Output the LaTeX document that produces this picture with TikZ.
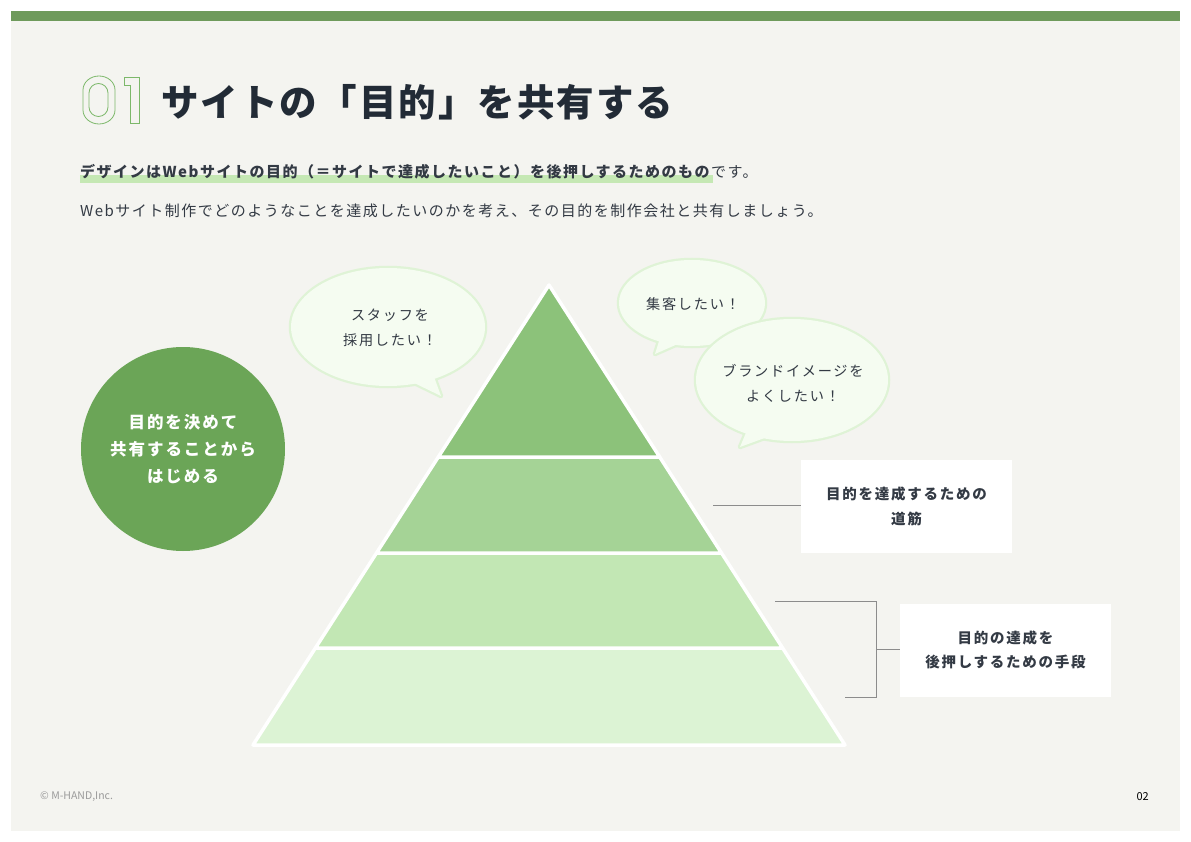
\documentclass[tikz,border=0pt]{standalone}
\usepackage{fontspec}
\setmainfont{Noto Sans CJK JP}
\newfontfamily\jptitle[LetterSpace=5.5]{Noto Sans CJK JP}
\newfontfamily\jpsub[LetterSpace=10]{Noto Sans CJK JP}
\newfontfamily\jpbody[LetterSpace=12]{Noto Sans CJK JP}
\newfontfamily\jpfoot{Noto Sans CJK JP}
\definecolor{bgpanel}{HTML}{F4F4F0}
\definecolor{strip}{HTML}{6E9A5B}
\definecolor{titlec}{HTML}{222B36}
\definecolor{textc}{HTML}{333A44}
\definecolor{hilite}{HTML}{C5E8B4}
\definecolor{circc}{HTML}{6BA557}
\definecolor{pyrA}{HTML}{8CC27A}
\definecolor{pyrB}{HTML}{A5D396}
\definecolor{pyrC}{HTML}{C2E7B4}
\definecolor{pyrD}{HTML}{DCF3D4}
\definecolor{bubfill}{HTML}{F5FCF1}
\definecolor{bubline}{HTML}{DFF3D6}
\definecolor{linec}{HTML}{8C8C8C}
\definecolor{footc}{HTML}{9A9A9A}
\definecolor{numc}{HTML}{7CB86A}
\tikzset{
  layer/.style={draw=white, line width=3.5pt, line join=round},
  bubstroke/.style={draw=bubline, fill=bubline, line width=4.5pt, line join=round},
  bubinner/.style={fill=bubfill},
  bubtext/.style={text=textc, align=center, inner sep=0pt, font=\jpbody\fontsize{14.2}{25}\selectfont},
  boxnode/.style={fill=white, minimum width=211pt, minimum height=93pt, align=center, text=textc, font=\jpbody\bfseries\fontsize{14.5}{24.5}\selectfont},
  conn/.style={draw=linec, line width=0.8pt},
  numline/.style={draw=numc, line width=0.8pt}
}
\begin{document}
\begin{tikzpicture}[x=1pt, y=-1pt]
\useasboundingbox (0,0) rectangle (1191,842);
\fill[white] (0,0) rectangle (1191,842);
\fill[bgpanel] (11,11) rectangle (1180,831);
\fill[strip] (11,11) rectangle (1180,21);

% "01" outlined
\draw[numline] (83,90) arc[start angle=180, end angle=0, x radius=16pt, y radius=14pt] -- (115,110) arc[start angle=0, end angle=-180, x radius=16pt, y radius=14pt] -- cycle;
\draw[numline] (89,93) arc[start angle=180, end angle=0, x radius=9.5pt, y radius=9.5pt] -- (108,107) arc[start angle=0, end angle=-180, x radius=9.5pt, y radius=9.5pt] -- cycle;
\draw[numline] (124,77) -- (139,77) -- (139,123) -- (130,123) -- (130,85) -- (124,85) -- cycle;

\node[anchor=west, inner sep=0pt, text=titlec, font=\jptitle\bfseries\fontsize{37.5}{40}\selectfont] (title) at (161,102) {サイトの「目的」を共有する};

% subtitle
\fill[hilite] (80,175) rectangle (713,183);
\node[anchor=west, inner sep=0pt, text=textc, font=\jpsub\fontsize{15}{18}\selectfont] (sub1) at (80,172) {\textbf{デザインはWebサイトの目的（＝サイトで達成したいこと）を後押しするためのもの}です。};
\node[anchor=west, inner sep=0pt, text=textc, font=\jpsub\fontsize{15}{18}\selectfont] (sub2) at (80,211) {Webサイト制作でどのようなことを達成したいのかを考え、その目的を制作会社と共有しましょう。};

% circle
\node[circle, fill=circc, minimum size=204pt, inner sep=0pt, text=white, align=center, font=\jpbody\bfseries\fontsize{16.5}{27}\selectfont] (goal) at (183,449) {目的を決めて\\共有することから\\はじめる};

% pyramid
\coordinate (apex) at (549,285);
\coordinate (l1) at (438.3,457); \coordinate (r1) at (659.7,457);
\coordinate (l2) at (376.5,553); \coordinate (r2) at (721.5,553);
\coordinate (l3) at (315.4,648); \coordinate (r3) at (782.6,648);
\coordinate (l4) at (253,745);   \coordinate (r4) at (845,745);
\draw[layer, fill=pyrD] (l3) -- (r3) -- (r4) -- (l4) -- cycle;
\draw[layer, fill=pyrC] (l2) -- (r2) -- (r3) -- (l3) -- cycle;
\draw[layer, fill=pyrB] (l1) -- (r1) -- (r2) -- (l2) -- cycle;
\draw[layer, fill=pyrA] (apex) -- (r1) -- (l1) -- cycle;

% bubble 1
\path[bubstroke] (388,327) ellipse [x radius=97pt, y radius=59pt];
\path[bubstroke] (408,380) -- (441,396) -- (433,374) -- cycle;
\path[bubinner] (388,327) ellipse [x radius=97pt, y radius=59pt];
\path[bubinner] (408,380) -- (441,396) -- (433,374) -- cycle;
\node[bubtext] (b1) at (390,328) {スタッフを\\採用したい！};

% bubble 2
\path[bubstroke] (692,303) ellipse [x radius=73pt, y radius=43pt];
\path[bubstroke] (660,338) -- (655,354) -- (680,343) -- cycle;
\path[bubinner] (692,303) ellipse [x radius=73pt, y radius=43pt];
\path[bubinner] (660,338) -- (655,354) -- (680,343) -- cycle;
\node[bubtext] (b2) at (693,304) {集客したい！};

% bubble 3
\path[bubstroke] (792,380) ellipse [x radius=96pt, y radius=61pt];
\path[bubstroke] (748,428) -- (740,447) -- (770,436) -- cycle;
\path[bubinner] (792,380) ellipse [x radius=96pt, y radius=61pt];
\path[bubinner] (748,428) -- (740,447) -- (770,436) -- cycle;
\node[bubtext] (b3) at (793,383) {ブランドイメージを\\よくしたい！};

% boxes
\node[boxnode] (box1) at (906.5,506.5) {目的を達成するための\\道筋};
\node[boxnode] (box2) at (1005.5,650) {目的の達成を\\後押しするための手段};

% connectors
\coordinate (c1) at (713,505);
\draw[conn] (c1) -- (c1 -| box1.west);
\coordinate (bt) at (775,601);
\coordinate (bm) at (876,601);
\coordinate (bb) at (876,697);
\coordinate (be) at (845,697);
\draw[conn] (bt) -- (bm) -- (bb) -- (be);
\coordinate (bmid) at (876,649);
\draw[conn] (bmid) -- (bmid -| box2.west);

% footer
\node[anchor=west, inner sep=0pt, text=footc, font=\jpfoot\fontsize{10.5}{12}\selectfont] (copy) at (40,797) {© M-HAND,Inc.};
\node[anchor=east, inner sep=0pt, text=black, font=\jpfoot\fontsize{11}{12}\selectfont] (page) at (1149,797) {02};
\end{tikzpicture}
\end{document}
